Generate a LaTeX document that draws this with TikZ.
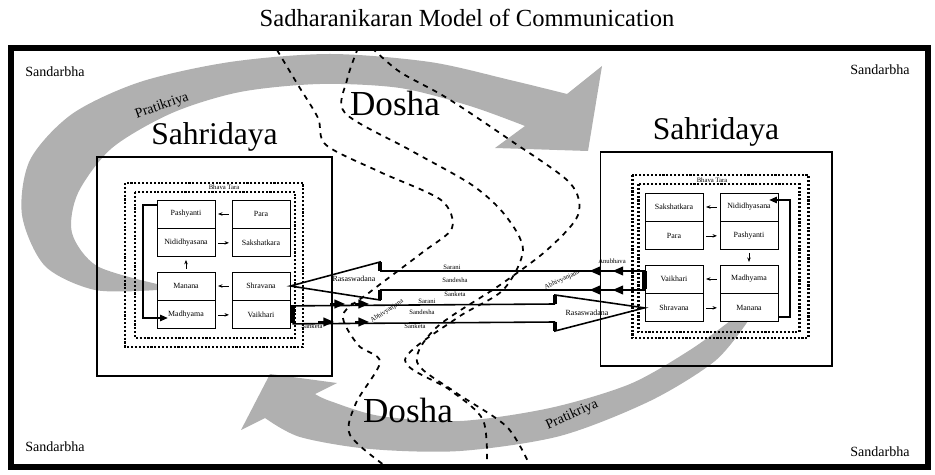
\documentclass[tikz,border=0pt]{standalone}
\usepackage{fontspec}
\setmainfont{Liberation Serif}
\usetikzlibrary{positioning,arrows.meta}

\definecolor{arcgray}{RGB}{176,176,176}

\tikzset{
  cell/.style={draw, line width=0.5pt, minimum width=1.16cm, minimum height=0.56cm, inner sep=0pt, font=\fontsize{4.5}{5}\selectfont},
  sahbox/.style={draw, line width=0.6pt},
  sahlabel/.style={font=\fontsize{18}{20}\selectfont, inner sep=0pt},
  dotframe/.style={line width=1.7pt, dash pattern=on 1.2pt off 1pt},
  tinyarrow/.style={line width=0.4pt, -{Stealth[length=2.5pt,width=2pt]}, shorten >=1.5pt, shorten <=1.5pt},
  looparrow/.style={line width=1.1pt, -{Triangle[length=4.5pt,width=3.5pt]}},
  chan/.style={line width=0.9pt},
  notch/.style={line width=2.6pt},
  head/.style={-{Triangle[length=6pt,width=5pt]}},
  dosha/.style={line width=1pt, dash pattern=on 3pt off 3pt},
  smalltext/.style={font=\fontsize{3.8}{4}\selectfont},
  cornertext/.style={font=\fontsize{8}{9}\selectfont}
}

\begin{document}
\begin{tikzpicture}[x=0.02cm,y=-0.02cm]
\useasboundingbox (0,0) rectangle (935,475);

% title and outer frame
\node[font=\fontsize{14}{16}\selectfont] (title) at (467,18) {Sadharanikaran Model of Communication};
\draw[line width=3.5pt] (11,48) rectangle (928,467);

\node[cornertext] (sTL) at (55,72) {Sandarbha};
\node[cornertext] (sTR) at (880,70) {Sandarbha};
\node[cornertext] (sBL) at (55,447) {Sandarbha};
\node[cornertext] (sBR) at (880,452) {Sandarbha};

% Pratikriya arcs
\fill[arcgray] plot[smooth] coordinates {(157,290) (95,290) (45,266) (22,215) (30,160) (72,114) (140,82) (230,62) (330,54) (430,62) (510,80) (567,94)}
  -- (602,66) -- (588,151) -- (495,148) --
  plot[smooth] coordinates {(525,126) (470,106) (400,88) (320,84) (240,92) (172,113) (112,148) (78,193) (72,233) (97,266) (157,284)} -- cycle;
\node[cornertext, rotate=19] (prTop) at (162,106) {Pratikriya};

\fill[arcgray] plot[smooth] coordinates {(730,321) (690,350) (630,384) (550,408) (460,421) (380,416) (330,401) (315,394)}
  -- (337,383) -- (270,374) -- (241,430) --
  plot[smooth] coordinates {(265,418) (300,437) (370,449) (460,451) (560,436) (650,401) (715,361) (748,321)} -- cycle;
\node[cornertext, rotate=24] (prBot) at (572,415) {Pratikriya};

% Dosha
\draw[dosha] plot[smooth] coordinates {(277,50) (298,85) (318,118) (326,145) (380,172) (441,200) (452,228) (423,252) (370,292) (343,315) (358,345) (380,362) (356,403) (350,435) (388,468)};
\draw[dosha] plot[smooth] coordinates {(358,48) (347,80) (345,113) (410,150) (472,185) (505,215) (523,250) (503,290) (457,318) (405,360) (450,390) (483,420) (487,468)};
\draw[dosha] plot[smooth] coordinates {(372,48) (400,72) (447,98) (510,140) (570,183) (578,215) (547,250) (500,285) (437,327) (417,362) (455,392) (507,427) (531,468)};
\node[font=\fontsize{20}{22}\selectfont] (doshaTop) at (395,103) {Dosha};
\node[font=\fontsize{20}{22}\selectfont] (doshaBot) at (408,410) {Dosha};

% left Sahridaya
\node[sahbox, minimum width=4.7cm, minimum height=4.38cm] (lSah) at (214.5,266.5) {};
\node[sahlabel, above=3pt of lSah] (lSahT) {Sahridaya};
\draw[dotframe] (125,183) rectangle (303,347);
\draw[dotframe] (135,192) rectangle (295,338);
\node[smalltext] (lTara) at (224,187) {Bhava Tara};

\node[cell] (lPash) at (186,214) {Pashyanti};
\node[cell, below=0pt of lPash] (lNidi) {Nididhyasana};
\node[cell] (lPara) at (261,214) {Para};
\node[cell, below=0pt of lPara] (lSaks) {Sakshatkara};
\node[cell] (lMana) at (186,286) {Manana};
\node[cell, below=0pt of lMana] (lMadh) {Madhyama};
\node[cell] (lShra) at (261,286) {Shravana};
\node[cell, below=0pt of lShra] (lVaik) {Vaikhari};

\draw[tinyarrow] (lPara) -- (lPash);
\draw[tinyarrow] (lNidi) -- (lSaks);
\draw[tinyarrow] (lMana) -- (lNidi);
\draw[tinyarrow] (lShra) -- (lMana);
\draw[tinyarrow] (lMadh) -- (lVaik);
\draw[looparrow] (lPash.west) ++(0,-9) -| (143,318) -- (168,318);

% right Sahridaya
\node[sahbox, minimum width=4.64cm, minimum height=4.28cm] (rSah) at (716,259) {};
\node[sahlabel, above=3pt of rSah] (rSahT) {Sahridaya};
\draw[dotframe] (632,175) rectangle (808,338);
\draw[dotframe] (638,184) rectangle (799,332);
\node[smalltext] (rTara) at (712,180) {Bhava Tara};

\node[cell] (rSaks) at (674,207) {Sakshatkara};
\node[cell, below=0pt of rSaks] (rPara) {Para};
\node[cell] (rNidi) at (749,207) {Nididhyasana};
\node[cell, below=0pt of rNidi] (rPash) {Pashyanti};
\node[cell] (rVaik) at (674,279) {Vaikhari};
\node[cell, below=0pt of rVaik] (rShra) {Shravana};
\node[cell] (rMadh) at (749,279) {Madhyama};
\node[cell, below=0pt of rMadh] (rMana) {Manana};

\draw[tinyarrow] (rNidi) -- (rSaks);
\draw[tinyarrow] (rPara) -- (rPash);
\draw[tinyarrow] (rPash) -- (rMadh);
\draw[tinyarrow] (rMadh) -- (rVaik);
\draw[tinyarrow] (rShra) -- (rMana);
\draw[looparrow] (rMana.east) ++(0,9) -| (790,200) -- (769,200);

% upper channel: right Vaikhari to left Shravana
\draw[notch] (rVaik.west) ++(0,-8) -- ++(0,18);
\draw[chan] (rVaik.west) ++(0,-8) -- (380,271);
\draw[chan] (rVaik.west) ++(0,11) -- (380,290);
\draw[chan, head] (rVaik.west) ++(-42,-8) -- ++(-13,0);
\draw[chan, head] (rVaik.west) ++(-42,11) -- ++(-13,0);
\draw[chan, head] (rVaik.west) ++(-19,-8) -- ++(-13,0);
\draw[chan, head] (rVaik.west) ++(-19,11) -- ++(-13,0);
\draw[chan] (380,271) -- (380,262) -- (lShra.east) -- (380,300) -- (380,290);
\draw[notch] (380,262) -- (380,271);
\draw[notch] (380,290) -- (380,300);
\node[font=\fontsize{4.5}{5}\selectfont] (lRasa) at (354,279) {Rasaswadana};
\node[smalltext] (uSar) at (452,267) {Sarani};
\node[smalltext] (uSan) at (455,280) {Sandesha};
\node[smalltext] (uSank) at (455,294) {Sanketa};
\node[smalltext] (rAnu) at (612,261) {Anubhava};
\node[smalltext, rotate=25] (rAbhi) at (562,280) {Abhivyanjana};

% lower channel: left Vaikhari to right Shravana
\draw[notch] (lVaik.east) ++(2,-10) -- ++(0,18);
\draw[chan] (lVaik.east) ++(2,-9) -- (555,304);
\draw[chan] (lVaik.east) ++(2,9) -- (555,322);
\draw[chan, head] (330,304) -- (345,304);
\draw[chan, head] (355,304) -- (369,304);
\draw[chan, head] (318,322) -- (334,322);
\draw[chan, head] (355,322) -- (369,322);
\fill (352,304) circle (1.5);
\draw[chan] (555,304) -- (555,295) -- (rShra.west) -- (555,331) -- (555,322);
\draw[notch] (555,295) -- (555,304);
\draw[notch] (555,322) -- (555,331);
\node[font=\fontsize{4.5}{5}\selectfont] (rRasa) at (587,313) {Rasaswadana};
\node[smalltext] (lSar) at (427,301) {Sarani};
\node[smalltext] (lSan) at (422,312) {Sandesha};
\node[smalltext] (lSank) at (415,326) {Sanketa};
\node[smalltext] (lSank2) at (312,326) {Sanketa};
\node[smalltext, rotate=33] (lAbhi) at (387,311) {Abhivyanjana};

\end{tikzpicture}
\end{document}
